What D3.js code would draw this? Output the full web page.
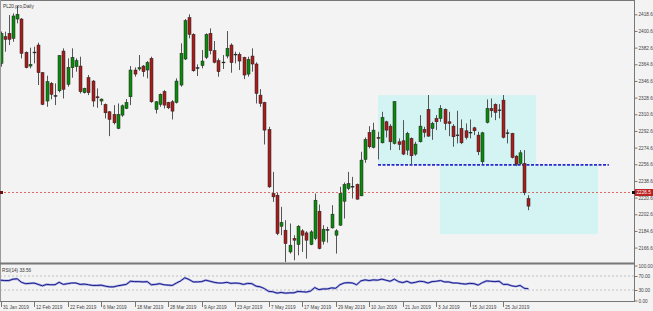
<!DOCTYPE html>
<html><head><meta charset="utf-8">
<script src="https://cdn.jsdelivr.net/npm/d3@7"></script>
<style>html,body{margin:0;padding:0;background:#f3f3f3;}svg{display:block;}</style>
</head><body>
<svg id="c" width="653" height="311"></svg>
<script>
const title = "PL20.pro,Daily";
const opens = [2365.6,2394.4,2398.0,2392.6,2413.5,2413.5,2377.5,2362.7,2377.2,2385.4,2355.5,2324.9,2344.0,2330.8,2336.0,2378.9,2342.9,2360.9,2362.0,2362.7,2333.9,2350.1,2346.5,2329.5,2324.9,2321.2,2313.3,2310.4,2295.3,2309.7,2316.9,2329.5,2358.4,2359.5,2362.7,2358.4,2371.0,2315.8,2321.2,2335.0,2323.4,2324.1,2323.4,2342.2,2370.3,2415.0,2396.9,2360.2,2363.1,2372.1,2398.0,2379.3,2368.5,2366.7,2373.5,2385.4,2375.1,2375.3,2372.1,2354.0,2373.5,2364.9,2331.3,2323.4,2294.2,2225.0,2223.2,2189.7,2185.4,2161.9,2176.4,2169.9,2184.7,2182.5,2169.9,2176.4,2205.9,2173.5,2186.1,2187.9,2180.0,2190.8,2216.7,2230.4,2232.4,2234.8,2222.5,2261.8,2291.0,2274.8,2285.6,2279.8,2302.5,2297.8,2279.1,2280.9,2282.0,2271.9,2284.5,2267.6,2280.9,2294.2,2315.9,2295.3,2306.1,2306.1,2315.9,2302.5,2297.8,2288.3,2295.3,2292.8,2291.2,2296.0,2288.1,2259.3,2301.8,2316.9,2321.3,2315.1,2325.9,2290.6,2289.9,2265.4,2257.5,2257.5,2219.6];
const highs = [2400.0,2399.8,2417.8,2419.6,2427.6,2414.5,2378.5,2382.5,2383.6,2387.9,2356.2,2352.3,2345.5,2344.0,2374.6,2381.8,2371.0,2381.8,2371.0,2372.8,2339.3,2353.0,2347.6,2338.6,2327.7,2322.3,2314.0,2320.5,2322.3,2321.2,2327.0,2362.7,2361.3,2374.6,2363.8,2368.1,2372.8,2324.9,2333.1,2336.7,2324.1,2325.9,2349.4,2387.2,2413.5,2418.6,2398.0,2364.5,2380.0,2398.0,2403.4,2389.7,2371.0,2374.6,2400.5,2387.2,2378.2,2377.5,2372.8,2372.8,2381.8,2366.7,2337.8,2324.1,2297.1,2248.4,2225.7,2210.6,2196.2,2192.6,2180.0,2190.8,2186.5,2184.3,2185.4,2225.0,2213.1,2190.8,2189.0,2212.4,2186.5,2232.2,2236.9,2248.4,2243.0,2235.8,2270.1,2285.6,2297.8,2301.5,2291.7,2313.3,2303.6,2300.0,2324.9,2284.5,2304.3,2291.7,2285.6,2280.9,2309.7,2297.1,2331.4,2302.5,2309.7,2320.5,2316.9,2313.3,2300.0,2314.4,2305.0,2300.7,2305.0,2297.1,2291.7,2291.7,2326.7,2327.7,2322.4,2321.6,2331.4,2294.2,2290.6,2266.5,2271.9,2271.9,2223.2];
const lows = [2362.0,2378.2,2385.4,2389.0,2408.8,2371.0,2360.2,2360.2,2365.6,2342.2,2320.5,2318.7,2326.7,2320.5,2334.2,2327.7,2340.4,2350.1,2356.6,2333.1,2333.1,2331.3,2318.7,2317.6,2320.5,2306.1,2287.0,2299.6,2294.6,2307.9,2316.2,2320.5,2351.2,2357.6,2351.2,2349.4,2323.0,2311.5,2318.7,2316.9,2316.2,2305.0,2322.3,2340.4,2369.2,2392.6,2356.6,2351.9,2360.2,2370.3,2375.3,2365.6,2351.2,2359.5,2371.0,2355.5,2365.6,2358.4,2348.6,2351.2,2356.6,2322.3,2318.7,2278.0,2231.1,2216.0,2180.0,2180.0,2151.1,2160.1,2152.9,2158.3,2161.9,2154.7,2169.2,2174.6,2164.8,2169.9,2172.0,2187.2,2160.1,2190.1,2198.0,2228.6,2219.6,2218.5,2222.2,2258.2,2273.7,2273.7,2261.8,2279.1,2285.6,2271.9,2278.0,2271.9,2266.5,2266.5,2255.7,2265.8,2280.2,2285.6,2286.3,2283.0,2293.5,2302.5,2293.5,2287.0,2275.5,2279.1,2278.4,2283.4,2284.5,2288.1,2266.5,2256.8,2300.7,2307.2,2304.3,2306.1,2284.5,2279.1,2262.9,2254.6,2255.7,2223.2,2207.0];
const closes = [2398.0,2391.5,2391.5,2416.8,2418.6,2376.4,2360.9,2364.5,2377.8,2355.5,2321.2,2345.8,2332.1,2330.3,2373.9,2337.5,2361.3,2372.1,2368.5,2335.0,2338.6,2333.9,2324.9,2328.4,2327.0,2312.2,2305.0,2301.4,2310.4,2319.8,2323.4,2358.4,2354.0,2360.9,2356.6,2366.3,2324.1,2324.1,2332.1,2320.5,2317.6,2314.0,2346.5,2376.4,2411.7,2396.9,2357.6,2360.9,2368.1,2396.9,2379.3,2366.7,2356.6,2367.0,2381.8,2366.3,2375.5,2368.1,2353.0,2369.9,2364.9,2333.1,2322.3,2293.5,2232.2,2221.4,2181.8,2193.7,2170.9,2169.2,2174.6,2189.7,2180.0,2174.6,2183.6,2217.8,2165.5,2186.5,2185.4,2202.7,2184.7,2225.0,2234.7,2235.8,2232.8,2218.9,2261.1,2283.4,2275.5,2293.5,2284.5,2307.2,2293.5,2280.9,2324.2,2278.0,2267.6,2289.9,2265.8,2278.4,2297.8,2291.0,2287.0,2300.7,2302.5,2316.9,2300.7,2300.7,2286.3,2287.9,2279.8,2285.6,2290.8,2292.8,2270.1,2290.6,2316.9,2314.4,2312.6,2315.3,2285.6,2289.9,2264.0,2256.8,2269.0,2225.8,2211.4];
const rsi = [58,57,57,61,62,52,48,49,50,46,42,46,45,45,52,46,48,50,50,46,47,45,43,43,44,41,39,39,42,44,46,55,54,54,53,54,45,46,48,45,44,43,50,56,65,60,53,53,54,58,55,52,50,50,52,49,50,49,46,49,48,41,39,34,26,25,21,23,21,22,22,26,25,24,27,37,31,33,33,36,35,45,50,51,50,45,56,59,57,59,58,61,58,55,61,54,51,55,50,52,55,54,50,54,55,57,53,53,50,50,48,47,49,48,44,51,56,55,54,55,46,46,42,40,43,35,33.56];
const dateTicks = [0,8,16,24,32,40,48,56,64,72,80,88,96,104,112,120];
const dateLabels = ["31 Jan 2019","12 Feb 2019","22 Feb 2019","6 Mar 2019","18 Mar 2019","28 Mar 2019","9 Apr 2019","23 Apr 2019","7 May 2019","17 May 2019","29 May 2019","10 Jun 2019","21 Jun 2019","3 Jul 2019","15 Jul 2019","25 Jul 2019"];
const priceTicks = [2418.6,2400.6,2382.6,2364.6,2346.6,2328.6,2310.6,2292.6,2274.6,2256.6,2238.6,2220.6,2202.6,2184.6,2166.6];
const rsiTicks = [100,70,30,0];
const rsiLabels = ["100.00","70.00","30.00","0.00"];
const rsiLevels = [70,30];
const redLine = 2226.5;
const blueLine = {from:90.1, to:145.2, price:2256.0};
const rects = [{x0:90.1,x1:127.8,p0:2331.3,p1:2256.0},{x0:104.9,x1:142.6,p0:2256.0,p1:2181.1}];

const svg = d3.select("#c");
const W = 653, H = 311, axisX = 634, mainTop = 1, mainBot = 263, rsiBot = 301;
const x = d3.scaleLinear().domain([0,126]).range([0.5, 0.5+4.19*126]);
const y = d3.scaleLinear().domain([2166.6,2418.6]).range([247.6,14.3]);
const yr = d3.scaleLinear().domain([0,100]).range([300.5,265.5]);
const font = "'Liberation Sans', Arial, sans-serif";
const fs = 4.7;

svg.append("rect").attr("width",W).attr("height",H).attr("fill","#f3f3f3");
svg.append("clipPath").attr("id","mc").append("rect").attr("x",0).attr("y",mainTop).attr("width",axisX).attr("height",mainBot-mainTop);
const mg = svg.append("g").attr("clip-path","url(#mc)");

rects.forEach(r=>{
  mg.append("rect").attr("x",x(r.x0)).attr("width",x(r.x1)-x(r.x0))
    .attr("y",y(r.p0)).attr("height",y(r.p1)-y(r.p0)).attr("fill","#d4f3f3");
});
const ry = Math.round(y(redLine))+0.5;
mg.append("line").attr("x1",0).attr("x2",axisX).attr("y1",ry).attr("y2",ry)
  .attr("stroke","#d44").attr("stroke-width",0.8).attr("stroke-dasharray","2,2");
mg.append("line").attr("x1",x(blueLine.from)).attr("x2",x(blueLine.to)).attr("y1",y(blueLine.price)).attr("y2",y(blueLine.price))
  .attr("stroke","#2a2ad0").attr("stroke-width",1.6).attr("stroke-dasharray","3,1.5");

const idx = d3.range(opens.length);
mg.selectAll("line.w").data(idx).join("line").attr("class","w")
  .attr("x1",i=>Math.round(x(i))+0.5).attr("x2",i=>Math.round(x(i))+0.5)
  .attr("y1",i=>y(highs[i])).attr("y2",i=>y(lows[i])).attr("stroke","#555").attr("stroke-width",1);
mg.selectAll("rect.b").data(idx).join("rect").attr("class","b")
  .attr("x",i=>Math.round(x(i))-1).attr("width",3)
  .attr("y",i=>y(Math.max(opens[i],closes[i])))
  .attr("height",i=>Math.max(0.8,Math.abs(y(opens[i])-y(closes[i]))))
  .attr("fill",i=>Math.abs(opens[i]-closes[i])<0.8?"#222":(closes[i]>=opens[i]?"#0a8a0a":"#a81c1c"))
  .attr("stroke","#222").attr("stroke-width",0.5);

svg.append("line").attr("x1",0).attr("x2",axisX).attr("y1",0.5).attr("y2",0.5).attr("stroke","#777");
svg.append("line").attr("x1",0.5).attr("x2",0.5).attr("y1",0).attr("y2",rsiBot).attr("stroke","#999");
svg.append("line").attr("x1",0).attr("x2",axisX).attr("y1",mainBot+0.5).attr("y2",mainBot+0.5).attr("stroke","#777").attr("stroke-width",2);
svg.append("line").attr("x1",axisX+0.5).attr("x2",axisX+0.5).attr("y1",0).attr("y2",rsiBot).attr("stroke","#777");
svg.append("line").attr("x1",0).attr("x2",axisX+1).attr("y1",rsiBot+0.5).attr("y2",rsiBot+0.5).attr("stroke","#777");

const pa = svg.append("g").attr("transform",`translate(${axisX+0.5},0)`)
  .call(d3.axisRight(y).tickValues(priceTicks).tickSize(3).tickPadding(1).tickFormat(d=>d.toFixed(1)));
pa.select(".domain").remove();
pa.selectAll("line").attr("stroke","#777");
pa.selectAll("text").attr("font-family",font).attr("font-size",fs).attr("fill","#444");

svg.append("rect").attr("x",axisX+1).attr("y",ry-3.5).attr("width",18).attr("height",7).attr("fill","#b22");
svg.append("text").attr("x",axisX+2.5).attr("y",ry+1.7).attr("font-family",font).attr("font-size",fs).attr("fill","#fff").text(redLine.toFixed(1));
svg.append("rect").attr("x",axisX-2).attr("y",ry-1.5).attr("width",3).attr("height",3).attr("fill","#111");
svg.append("rect").attr("x",0).attr("y",ry-1.5).attr("width",3).attr("height",3).attr("fill","#611");

svg.append("text").attr("x",3).attr("y",7.5).attr("font-family",font).attr("font-size",fs).attr("fill","#333").text(title);

const rg = svg.append("g");
rsiLevels.forEach(l=>{
  rg.append("line").attr("x1",0).attr("x2",axisX).attr("y1",yr(l)).attr("y2",yr(l))
   .attr("stroke","#aaa").attr("stroke-width",0.7).attr("stroke-dasharray","2,2");
});
const rl = d3.line().x(i=>x(i)).y(i=>yr(rsi[i]));
rg.append("path").datum(idx).attr("fill","none").attr("stroke","#a0a6e0").attr("stroke-width",2.2).attr("d",rl);
rg.append("path").datum(idx).attr("fill","none").attr("stroke","#1a1a8a").attr("stroke-width",1).attr("d",rl);
rg.append("text").attr("x",2).attr("y",271.5).attr("font-family",font).attr("font-size",fs).attr("fill","#333")
  .text("RSI(14) " + rsi[rsi.length-1].toFixed(2));
const ra = svg.append("g").attr("transform",`translate(${axisX+0.5},0)`)
  .call(d3.axisRight(yr).tickValues(rsiTicks).tickSize(3).tickPadding(1).tickFormat((d,i)=>rsiLabels[i]));
ra.select(".domain").remove();
ra.selectAll("line").attr("stroke","#777");
ra.selectAll("text").attr("font-family",font).attr("font-size",fs).attr("fill","#444");

const dg = svg.append("g");
dateTicks.forEach((t,k)=>{
  const xx = Math.round(x(t))+0.5;
  dg.append("line").attr("x1",xx).attr("x2",xx).attr("y1",rsiBot).attr("y2",rsiBot+6).attr("stroke","#777");
  dg.append("text").attr("x",xx+1.5).attr("y",rsiBot+7.5).attr("font-family",font).attr("font-size",fs).attr("fill","#444").text(dateLabels[k]);
});
</script>
</body></html>
